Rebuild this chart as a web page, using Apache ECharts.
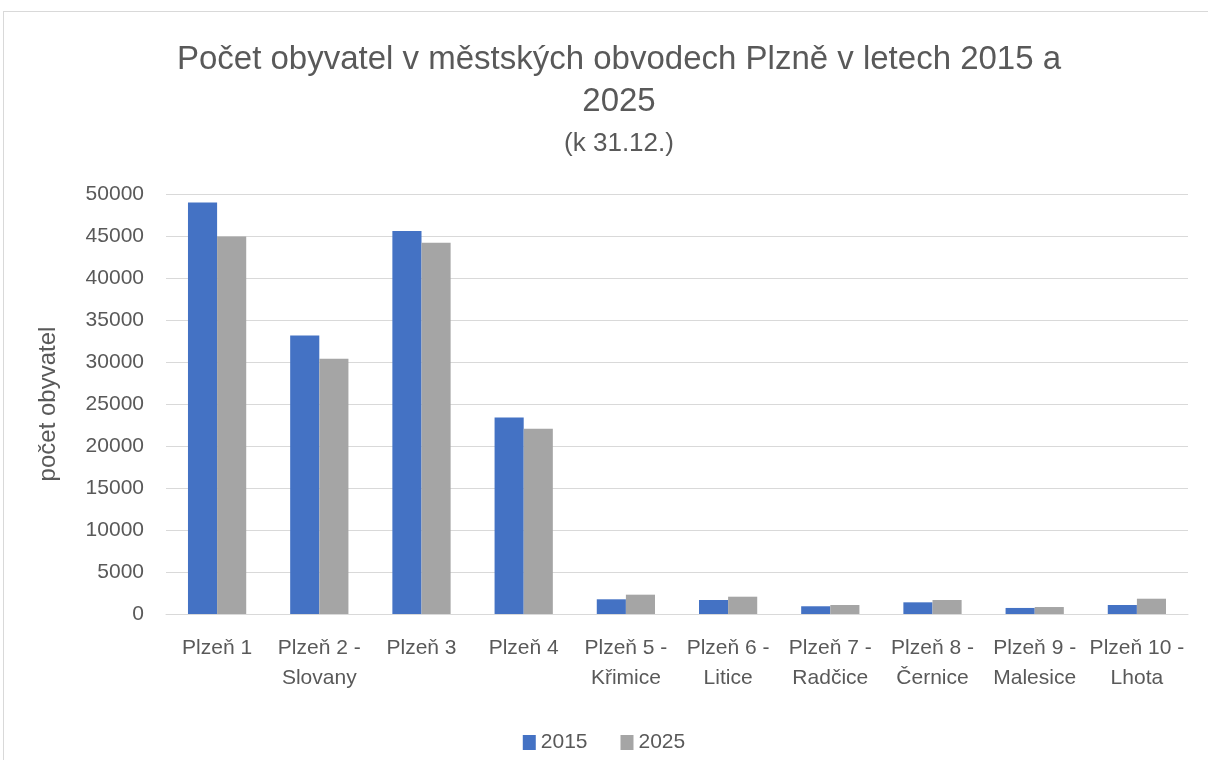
<!DOCTYPE html>
<html>
<head>
<meta charset="utf-8"/>
<title>Počet obyvatel</title>
<script src="https://cdn.jsdelivr.net/npm/echarts@6/dist/echarts.min.js"></script>
<style>
  body { margin: 0; background: #fff; }
  #main { position: absolute; left: 0; top: 0; width: 1208px; height: 760px; }
  #frame { position: absolute; left: 3px; top: 11px; width: 1230px; height: 800px; border: 1px solid #d9d9d9; pointer-events: none; }
</style>
</head>
<body>
<div id="main"></div>
<div id="frame"></div>
<script>
// obvody
const categories = ['Plzeň 1', 'Plzeň 2 -\nSlovany', 'Plzeň 3', 'Plzeň 4', 'Plzeň 5 -\nKřimice',
  'Plzeň 6 -\nLitice', 'Plzeň 7 -\nRadčice', 'Plzeň 8 -\nČernice', 'Plzeň 9 -\nMalesice', 'Plzeň 10 -\nLhota']
const values2015 = [49000, 33150, 45600, 23400, 1750, 1670, 920, 1390, 720, 1070]
const values2025 = [44950, 30380, 44200, 22050, 2300, 2060, 1070, 1670, 830, 1820]
const seriesNames = ['2015', '2025']

const font = 'Liberation Sans'
const txt = '#595959'

const chart = echarts.init(document.getElementById('main'))
chart.setOption({
  animation: false,
  title: {
    text: 'Počet obyvatel v městských obvodech Plzně v letech 2015 a\n2025',
    subtext: '(k 31.12.)',
    left: 614,
    textAlign: 'center',
    top: 34,
    itemGap: 8,
    textStyle: { fontFamily: font, fontSize: 33, fontWeight: 'normal', color: txt, lineHeight: 42 },
    subtextStyle: { fontFamily: font, fontSize: 26, color: txt }
  },
  legend: {
    data: seriesNames,
    bottom: 2,
    left: 'center',
    itemWidth: 13,
    itemHeight: 15,
    itemGap: 33,
    icon: 'rect',
    textStyle: { fontFamily: font, fontSize: 21, color: txt }
  },
  grid: { left: 166, right: 20, top: 194, bottom: 146, containLabel: false },
  xAxis: {
    type: 'category',
    data: categories,
    axisLine: { lineStyle: { color: '#d9d9d9', width: 1 } },
    axisTick: { show: false },
    axisLabel: { fontFamily: font, fontSize: 21, color: txt, lineHeight: 30, margin: 19, interval: 0 }
  },
  yAxis: {
    type: 'value',
    min: 0,
    max: 50000,
    interval: 5000,
    name: 'počet obyvatel',
    nameLocation: 'middle',
    nameGap: 106,
    nameTextStyle: { fontFamily: font, fontSize: 24, color: txt },
    axisLine: { show: false },
    axisTick: { show: false },
    axisLabel: { fontFamily: font, fontSize: 21, color: txt, margin: 22, formatter: v => String(v) },
    splitLine: { lineStyle: { color: '#d9d9d9', width: 1 } }
  },
  series: [
    {
      name: seriesNames[0], type: 'bar', data: values2015,
      barGap: '0%', barCategoryGap: '43%',
      itemStyle: { color: '#4472c4' }
    },
    {
      name: seriesNames[1], type: 'bar', data: values2025,
      itemStyle: { color: '#a5a5a5' }
    }
  ]
})
</script>
</body>
</html>
